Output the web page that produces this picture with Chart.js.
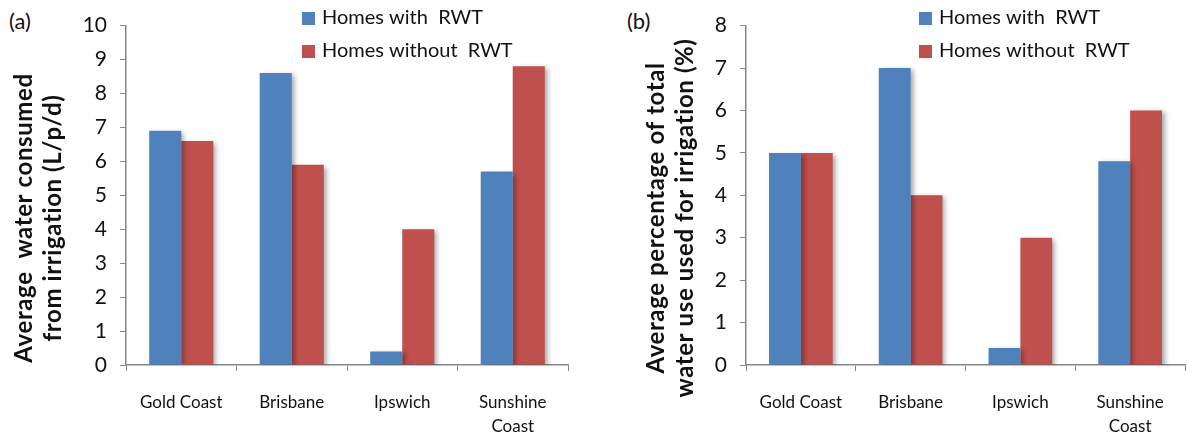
<!DOCTYPE html>
<html>
<head>
<meta charset="utf-8">
<script src="https://cdn.jsdelivr.net/npm/chart.js@4.4.0/dist/chart.umd.min.js"></script>
<style>
  body { margin: 0; background: #fff; width: 1187px; height: 437px; position: relative; overflow: hidden; }
  .box { position: absolute; top: 0; height: 437px; }
  .tag { position: absolute; top: 7px; font-family: Lato, sans-serif; font-size: 22px; color: #111; }
</style>
</head>
<body>
<div class="tag" style="left:9px">(a)</div>
<div class="tag" style="left:627px">(b)</div>
<div class="box" style="left:0; width:590px"><canvas id="chartA"></canvas></div>
<div class="box" style="left:600px; width:587px"><canvas id="chartB"></canvas></div>
<script>
const categories = ['Gold Coast', 'Brisbane', 'Ipswich', ['Sunshine', 'Coast']];
const seriesNames = ['Homes with  RWT', 'Homes without  RWT'];

const consumedWith = [6.9, 8.6, 0.4, 5.7];
const consumedWithout = [6.6, 5.9, 4.0, 8.8];

const percentWith = [5.0, 7.0, 0.4, 4.8];
const percentWithout = [5.0, 4.0, 3.0, 6.0];

const blue = '#4F81BD';
const red = '#C0504D';
const font = 'Lato, sans-serif';

// draws shadow behind bars, like the office chart
const shadowPlugin = {
    id: 'barShadow',
    beforeDatasetsDraw(chart) {
        const ctx = chart.ctx;
        ctx.save();
        ctx.shadowColor = 'rgba(0,0,0,0.35)';
        ctx.shadowBlur = 5;
        ctx.shadowOffsetX = 3;
        ctx.shadowOffsetY = 2;
    },
    afterDatasetsDraw(chart) {
        chart.ctx.restore();
    }
};

// legend sits inside the plot area, top right
const insideLegend = {
    id: 'insideLegend',
    afterDraw(chart, args, opts) {
        const ctx = chart.ctx;
        const x = chart.chartArea.left + opts.offsetX;
        ctx.save();
        ctx.font = '20px ' + font;
        ctx.textBaseline = 'middle';
        chart.data.datasets.forEach((ds, i) => {
            const y = 18 + i * 33;
            ctx.fillStyle = ds.backgroundColor;
            ctx.fillRect(x, y - 6, 13, 13);
            ctx.fillStyle = '#111';
            ctx.fillText(ds.label, x + 20, y);
        });
        ctx.restore();
    }
};

// y title drawn by hand, it sits lower than the axis middle in the original
const sideTitle = {
    id: 'sideTitle',
    afterDraw(chart, args, opts) {
        const ctx = chart.ctx;
        ctx.save();
        ctx.font = 'bold 24px ' + font;
        ctx.letterSpacing = '0.6px';
        ctx.fillStyle = '#111';
        ctx.textAlign = 'center';
        ctx.textBaseline = 'middle';
        opts.lines.forEach((line, i) => {
            ctx.save();
            ctx.translate(opts.x + i * opts.gap, opts.y);
            ctx.rotate(-Math.PI / 2);
            ctx.fillText(line, 0, 0);
            ctx.restore();
        });
        ctx.restore();
    }
};

function makeChart(id, dataWith, dataWithout, max, title, axisWidth, titleX, legendX, rightPad) {
    return new Chart(document.getElementById(id), {
        type: 'bar',
        data: {
            labels: categories,
            datasets: [
                { label: seriesNames[0], data: dataWith, backgroundColor: blue },
                { label: seriesNames[1], data: dataWithout, backgroundColor: red }
            ]
        },
        options: {
            responsive: true,
            maintainAspectRatio: false,
            animation: false,
            layout: { padding: { top: 23, right: rightPad, bottom: 0, left: 0 } },
            datasets: { bar: { categoryPercentage: 0.58, barPercentage: 1.0 } },
            plugins: {
                legend: { display: false },
                tooltip: { enabled: false },
                insideLegend: { offsetX: legendX },
                sideTitle: { lines: title, x: titleX, y: 218, gap: 29 }
            },
            scales: {
                x: {
                    grid: { display: true, drawOnChartArea: false, offset: true, color: '#868686', tickLength: 6 },
                    border: { color: '#868686', width: 1.5 },
                    ticks: { color: '#111', font: { family: font, size: 17, lineHeight: 1.45 }, padding: 19, maxRotation: 0 },
                    afterFit(axis) { axis.height = 72; }
                },
                y: {
                    min: 0,
                    max: max,
                    grid: { display: true, drawOnChartArea: false, color: '#868686', tickLength: 6 },
                    border: { color: '#868686', width: 1.5 },
                    ticks: { stepSize: 1, color: '#111', font: { family: font, size: 21 }, padding: 13 },
                    afterFit(axis) { axis.width = axisWidth; }
                }
            }
        },
        plugins: [shadowPlugin, insideLegend, sideTitle]
    });
}

makeChart('chartA', consumedWith, consumedWithout, 10,
    ['Average  water consumed', 'from irrigation (L/p/d)'], 126, 24, 176, 22);
makeChart('chartB', percentWith, percentWithout, 8,
    ['Average percentage of total', 'water use used for irrigation (%)'], 146, 56, 173, 2);
</script>
</body>
</html>
